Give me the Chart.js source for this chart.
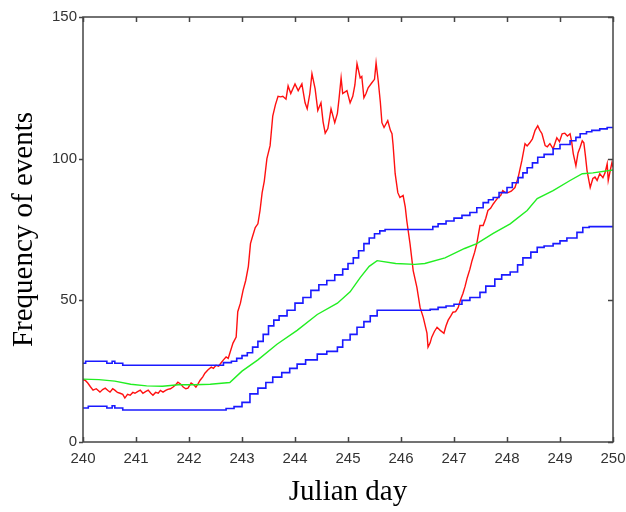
<!DOCTYPE html>
<html>
<head>
<meta charset="utf-8">
<script src="https://cdn.jsdelivr.net/npm/chart.js@4/dist/chart.umd.min.js"></script>
<style>
  html, body { margin: 0; padding: 0; background: #fff; }
  #wrap { width: 626px; height: 512px; }
</style>
</head>
<body>
<div id="wrap"><canvas id="eventsChart"></canvas></div>
<script>
// observed event frequency (red)
const redDays = [240.00,240.04,240.09,240.14,240.19,240.25,240.32,240.37,240.42,240.47,240.51,240.56,240.60,240.65,240.70,240.75,240.79,240.84,240.89,240.94,240.98,241.03,241.08,241.13,241.18,241.23,241.28,241.32,241.37,241.42,241.46,241.51,241.56,241.60,241.65,241.70,241.75,241.79,241.84,241.89,241.94,241.98,242.04,242.09,242.13,242.17,242.21,242.26,242.30,242.36,242.42,242.46,242.51,242.56,242.60,242.65,242.70,242.74,242.77,242.83,242.89,242.92,242.97,243.02,243.07,243.12,243.16,243.19,243.25,243.30,243.34,243.38,243.42,243.47,243.53,243.58,243.63,243.68,243.73,243.77,243.83,243.87,243.92,244.00,244.06,244.13,244.19,244.23,244.28,244.32,244.38,244.43,244.49,244.53,244.57,244.62,244.68,244.75,244.80,244.83,244.87,244.90,244.98,245.04,245.09,245.13,245.17,245.23,245.26,245.30,245.34,245.38,245.45,245.50,245.53,245.57,245.61,245.64,245.68,245.75,245.80,245.83,245.85,245.89,245.94,245.98,246.04,246.08,246.11,246.17,246.23,246.30,246.36,246.42,246.49,246.51,246.55,246.58,246.63,246.68,246.74,246.81,246.85,246.89,246.94,246.98,247.03,247.08,247.12,247.17,247.21,247.25,247.30,247.34,247.39,247.43,247.49,247.55,247.60,247.64,247.69,247.74,247.78,247.83,247.88,247.92,247.97,248.02,248.08,248.15,248.21,248.28,248.34,248.38,248.43,248.48,248.53,248.58,248.62,248.66,248.72,248.76,248.81,248.87,248.94,248.99,249.04,249.09,249.14,249.19,249.22,249.25,249.30,249.34,249.38,249.42,249.45,249.48,249.51,249.57,249.62,249.66,249.70,249.75,249.81,249.85,249.89,249.91,249.95,249.98,250.00];
const redValues = [22,21.8,20.8,19.5,18.3,18.8,17.6,18.5,19,18.2,17.6,18.8,18.3,17.5,17.2,16.8,15.5,16.8,16.5,17.5,17.2,17.8,18.3,17.2,17.8,18.3,17.2,16.5,17.5,17.2,18.2,17.6,18.2,18.6,18.8,19.4,20.2,21.1,20.5,19.4,18.8,19,20.8,20.2,19.4,20.5,21.8,23,24.3,25.5,26.4,26,27.1,26.8,27.8,29,30,29.5,31.3,34.9,37,46,49,53.5,57,62,70,72,75.7,77,81.7,88,92,100,104.6,115,119,122,121.8,122,121,125.7,123,126.4,124,126.4,119.7,117.6,123,130,124.6,117,119.7,113,109,110.6,117.6,112.7,116,121,128.5,123,124,119.7,122,126,133.5,128.5,129,121.5,123,125,126.8,128,133.8,127.5,120,112.7,111,113.4,110,108.8,105,94.7,88,86.3,87,83,78,70,60.5,54.6,47.5,44,38.4,33.5,35,37,39,40.5,39.4,38.4,41,43,44.5,45.8,46,47.5,50,52.5,55,58,61,64,67,70,76.4,76.4,79,81.7,82.5,84,85,86.3,87,88.7,88,88,88.5,89.8,93.3,99.3,105.3,104.5,105.6,107,110,111.6,110,108.8,104.6,104.2,105.3,103.5,107.4,106,108.8,109,108,108.8,106,101.8,97.5,102,104,106.3,105.6,101,95.8,89.8,93,93.5,92.3,94.7,93.3,95,98.2,92.3,96,98.6,97];

// running mean (green)
const meanDays = [240.0,240.3,240.6,240.9,241.2,241.5,241.8,242.1,242.4,242.77,243.0,243.3,243.66,244.04,244.42,244.8,245.04,245.23,245.4,245.55,245.9,246.26,246.45,246.83,247.2,247.43,247.74,248.06,248.38,248.57,248.87,249.19,249.42,249.62,250.0];
const meanValues = [22.2,22,21.5,20.4,19.8,19.7,20.2,20.2,20.4,21,25,29,34.5,39.4,45,49,53,58,62,64,63,62.7,63,65,68.3,70,73.6,77,81.7,85.9,88.7,92.3,94.7,95,96];

// upper limit (blue)
const upperDays = [240.0,240.05,240.45,240.55,240.6,240.75,242.6,242.65,242.8,242.9,243.0,243.1,243.2,243.3,243.4,243.5,243.6,243.7,243.85,244.0,244.15,244.3,244.45,244.6,244.75,244.9,245.0,245.1,245.2,245.3,245.4,245.5,245.6,245.7,246.55,246.6,246.7,246.85,247.0,247.15,247.3,247.43,247.55,247.65,247.74,247.85,248.0,248.1,248.21,248.3,248.38,248.48,248.58,248.7,248.87,249.0,249.19,249.3,249.38,249.5,249.6,249.75,249.89,250.0];
const upperValues = [27.8,28.5,27.8,28.5,27.8,27.1,27.1,28,28.5,29.5,30.5,31.5,33.5,35.5,38,41,43,44.5,46.5,49,51,53.5,55.5,57,59,61,63,65,67.5,70,72,73.5,74.5,75,75,76,77,78,79,80,81,82.7,84.5,85.5,86.3,88,89.8,91.5,93.3,95,96.8,98.5,100.5,101.5,103.5,105,106.3,107.5,108.8,109.5,110,110.5,111,111];

// lower limit (blue)
const lowerDays = [240.0,240.1,240.45,240.55,240.6,240.75,242.55,242.7,242.85,243.0,243.15,243.3,243.45,243.58,243.75,243.9,244.04,244.2,244.42,244.6,244.8,244.9,245.04,245.17,245.3,245.42,245.55,246.55,246.7,246.85,247.0,247.15,247.3,247.49,247.6,247.77,247.9,248.06,248.2,248.3,248.45,248.57,248.7,248.87,249.0,249.13,249.32,249.43,249.55,250.0];
const lowerValues = [12,12.6,12,12.8,12,11.3,11.3,11.8,12.5,14,17,19,21,22.9,24.5,26,27.5,29,31,32,33.5,36,38,40.5,42.5,44.5,46.5,46.8,47.5,48,48.6,50,51,52.8,55,57.5,59,60,62.5,65,67,68.7,69.2,70,71,72,74,75.7,76,76];

const xTicks = [240, 250, 1];
const yTicks = [0, 150, 50];

function toPoints(days, values) {
  return days.map((d, i) => ({ x: d, y: values[i] }));
}

// box round the plot with inward ticks (matlab look)
const frameTicks = {
  id: "frameTicks",
  afterDatasetsDraw(chart) {
    const { ctx, chartArea: a, scales } = chart;
    ctx.save();
    ctx.strokeStyle = "#444";
    ctx.lineWidth = 1.5;
    ctx.strokeRect(a.left, a.top, a.right - a.left, a.bottom - a.top);
    ctx.beginPath();
    scales.x.ticks.forEach((t) => {
      const px = Math.round(scales.x.getPixelForValue(t.value)) + 0.5;
      ctx.moveTo(px, a.bottom);
      ctx.lineTo(px, a.bottom - 5);
      ctx.moveTo(px, a.top);
      ctx.lineTo(px, a.top + 5);
    });
    scales.y.ticks.forEach((t) => {
      const py = Math.round(scales.y.getPixelForValue(t.value)) + 0.5;
      ctx.moveTo(a.left - 4, py);
      ctx.lineTo(a.left, py);
      ctx.moveTo(a.right, py);
      ctx.lineTo(a.right - 5, py);
    });
    ctx.stroke();
    ctx.restore();
  },
};

const tickFont = { family: "'Liberation Sans', Arial, sans-serif", size: 15 };
const titleFont = { family: "'Liberation Serif', 'Times New Roman', serif", size: 29, lineHeight: 1.2 };

new Chart(document.getElementById("eventsChart").getContext("2d"), {
  type: "line",
  data: {
    datasets: [
      {
        label: "Upper",
        data: toPoints(upperDays, upperValues),
        borderColor: "#1a1aff",
        borderWidth: 1.6,
        stepped: true,
      },
      {
        label: "Lower",
        data: toPoints(lowerDays, lowerValues),
        borderColor: "#1a1aff",
        borderWidth: 1.6,
        stepped: true,
      },
      {
        label: "Mean",
        data: toPoints(meanDays, meanValues),
        borderColor: "#22ee22",
        borderWidth: 1.4,
      },
      {
        label: "Events",
        data: toPoints(redDays, redValues),
        borderColor: "#ff1010",
        borderWidth: 1.4,
      },
    ],
  },
  options: {
    responsive: true,
    maintainAspectRatio: false,
    animation: false,
    layout: { padding: { top: 17, right: 13, left: 0, bottom: 0 } },
    elements: { point: { radius: 0 }, line: { tension: 0 } },
    plugins: { legend: { display: false }, tooltip: { enabled: false } },
    scales: {
      x: {
        type: "linear",
        min: xTicks[0],
        max: xTicks[1],
        grid: { display: false, drawTicks: false },
        border: { display: false },
        ticks: { stepSize: xTicks[2], color: "#333", font: tickFont, padding: 8, maxRotation: 0 },
        title: { display: true, text: "Julian day", color: "#000", font: titleFont, padding: { top: 0, bottom: 2 } },
        afterFit(scale) {
          scale.height = 70;
          scale.paddingLeft = 0;
          scale.paddingRight = 0;
        },
      },
      y: {
        min: yTicks[0],
        max: yTicks[1],
        grid: { display: false, drawTicks: false },
        border: { display: false },
        ticks: { stepSize: yTicks[2], color: "#333", font: tickFont, padding: 6 },
        title: { display: true, text: "Frequency of events", color: "#000", font: titleFont, padding: { top: 7, bottom: 0 } },
        afterFit(scale) {
          scale.width = 83;
          scale.paddingTop = 0;
          scale.paddingBottom = 0;
        },
      },
    },
  },
  plugins: [frameTicks],
});
</script>
</body>
</html>
